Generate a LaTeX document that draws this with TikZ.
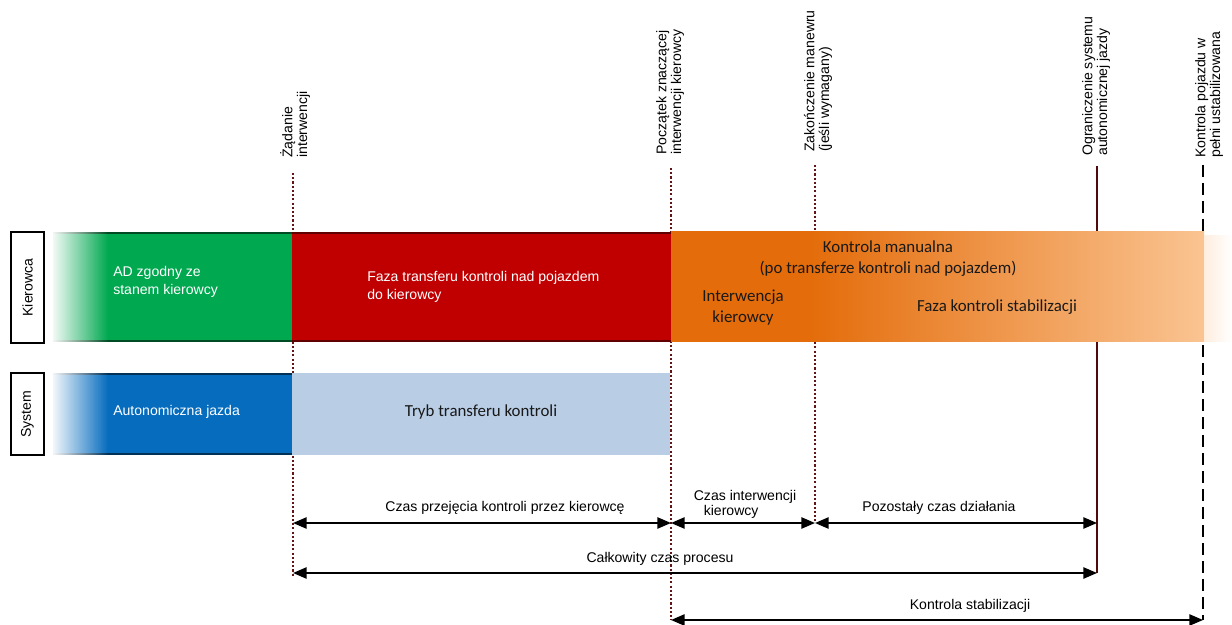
\documentclass[tikz,border=0pt]{standalone}
\usepackage{fontspec}
\setmainfont{Liberation Sans}
\newfontfamily\calib{Carlito}
\usepackage{xcolor}
\usetikzlibrary{positioning,arrows.meta,fadings,calc}
\definecolor{adgreen}{RGB}{0,168,80}
\definecolor{tred}{RGB}{192,0,0}
\definecolor{adblue}{RGB}{5,108,190}
\definecolor{tblue}{RGB}{185,205,229}
\definecolor{morange}{RGB}{228,108,10}
\definecolor{mpeach}{RGB}{250,196,146}
\definecolor{evred}{RGB}{100,20,20}
\definecolor{limred}{RGB}{80,10,10}
\pgfdeclarehorizontalshading{manfade}{100bp}{color(0bp)=(morange); color(38bp)=(morange); color(75bp)=(mpeach); color(100bp)=(mpeach)}
\tikzfading[name=fade right, left color=transparent!0, right color=transparent!100]
\tikzset{
  lane/.style={draw,line width=1pt,fill=white,rotate=90,inner sep=0pt,
               font=\fontsize{10}{12}\selectfont},
  bartxt/.style={align=left,inner sep=0pt,text=white,font=\fontsize{10}{12.5}\selectfont},
  caltxt/.style={align=center,inner sep=0pt,text=black!90,font=\calib\fontsize{12}{15}\selectfont},
  evt/.style={rotate=90,anchor=west,align=left,inner sep=0pt,font=\fontsize{10}{10.5}\selectfont},
  evline/.style={evred,line width=1.9pt,dash pattern=on 1.5pt off 1.5pt},
  limline/.style={limred,line width=1.4pt},
  stbline/.style={black,line width=1.6pt,dash pattern=on 3mm off 1.5mm},
  durarr/.style={{Triangle[length=3.4mm,width=2.8mm]}-{Triangle[length=3.4mm,width=2.8mm]},line width=1.3pt},
  durtxt/.style={align=left,inner sep=0pt,font=\fontsize{10}{10.5}\selectfont},
}

\begin{document}
\begin{tikzpicture}[x=0.25mm,y=-0.25mm]
\useasboundingbox (0,0) rectangle (1232,625);
% event marks
\coordinate (req) at (293,173);
\coordinate (beg) at (671,168);
\coordinate (man) at (815,165);
\coordinate (lim) at (1097,166);
\coordinate (stb) at (1203,165);
% rows of the spans
\coordinate (r1) at (0,523);
\coordinate (r2) at (0,573);
\coordinate (r3) at (0,620);
\draw[evline] (req) -- ([yshift=-1mm]req |- r2);
\draw[evline] (beg) -- (beg |- r3);
\draw[evline] (man) -- (man |- r1);
\draw[limline] (lim) -- (lim |- r2);
\draw[stbline] (stb) -- (stb |- r3);
% lanes
\node[lane,minimum width=27.75mm,minimum height=8.25mm] (kier) at (27.5,287.5) {Kierowca};
\node[lane,minimum width=20.5mm,minimum height=8.25mm] (sys) at (27.5,414) {System};
% driver bars
\fill[adgreen] (53,232) rectangle (292,342);
\fill[tred] (292,232) rectangle (671,342);
\shade[shading=manfade] (671,232) rectangle (1204,342);
\shade[left color=mpeach!30,right color=white] (1204,236) rectangle (1232,342);
% system bars
\fill[adblue] (53,373) rectangle (292,455);
\fill[tblue] (292,373) rectangle (670,455);
\draw[adgreen!45!black,line width=1.2pt] (53,233) -- (292,233) (53,341) -- (292,341);
\draw[tred!50!black,line width=1.2pt] (292,233) -- (671,233) (292,341) -- (671,341);
\draw[adblue!45!black,line width=1.2pt] (53,374) -- (292,374) (53,454) -- (292,454);
\fill[white,path fading=fade right] (50,226) rectangle (108,460);
% bar texts
\node[bartxt,anchor=west] (adtxt) at (113,282) {AD zgodny ze\\stanem kierowcy};
\node[bartxt,anchor=west] (fztxt) at (367,287) {Faza transferu kontroli nad pojazdem\\do kierowcy};
\node[bartxt,anchor=west] (autxt) at (113,412) {Autonomiczna jazda};
\node[caltxt] (trtxt) at (481,412) {Tryb transferu kontroli};
\node[caltxt] (mantxt) at (888,259) {Kontrola manualna\\(po transferze kontroli nad pojazdem)};
\node[caltxt] (inttxt) at (743,308) {Interwencja\\kierowcy};
\node[caltxt] (stbtxt) at (997,307) {Faza kontroli stabilizacji};
% event texts
\node[evt] (reqtxt) at (295,158) {Żądanie\\interwencji};
\node[evt] (begtxt) at (670,155) {Początek znaczącej\\interwencji kierowcy};
\node[evt] (mantxt2) at (818,152) {Zakończenie manewru\\(jeśli wymagany)};
\node[evt] (limtxt) at (1096,156) {Ograniczenie systemu\\autonomicznej jazdy};
\node[evt] (stbtxt2) at (1209,158) {Kontrola pojazdu w\\pełni ustabilizowana};
% spans
\draw[durarr] (req |- r1) -- (beg |- r1);
\draw[durarr] (beg |- r1) -- (man |- r1);
\draw[durarr] (man |- r1) -- (lim |- r1);
\draw[durarr] (req |- r2) -- (lim |- r2);
\draw[durarr] (beg |- r3) -- (stb |- r3);
\node[durtxt] (d1) at (505,508) {Czas przejęcia kontroli przez kierowcę};
\node[durtxt] (d2) at (745,504) {Czas interwencji\\\hspace*{2.5mm}kierowcy};
\node[durtxt] (d3) at (939,508) {Pozostały czas działania};
\node[durtxt] (d4) at (660,559) {Całkowity czas procesu};
\node[durtxt] (d5) at (970,606) {Kontrola stabilizacji};
\end{tikzpicture}
\end{document}
